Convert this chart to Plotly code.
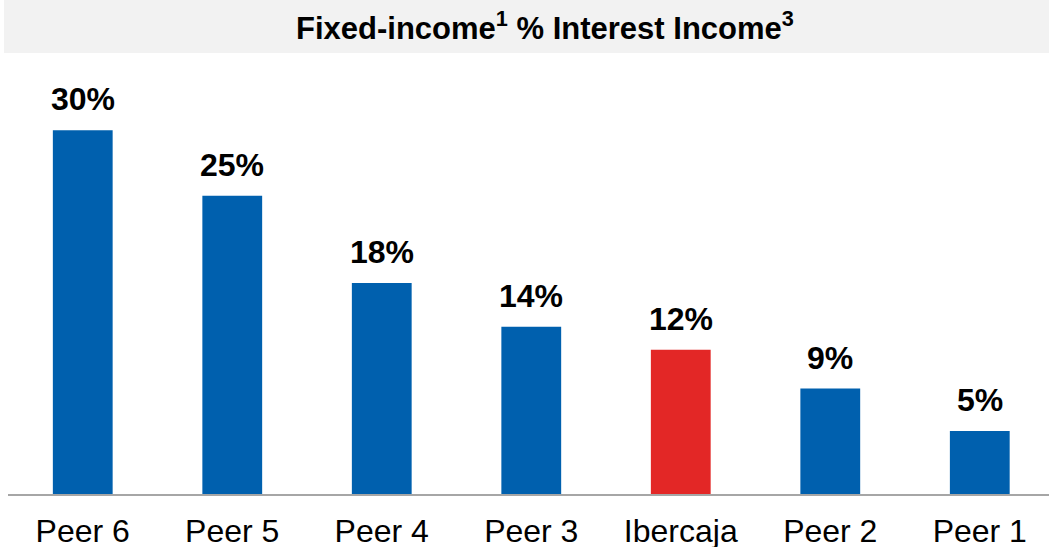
import plotly.graph_objects as go

categories = ["Peer 6", "Peer 5", "Peer 4", "Peer 3", "Ibercaja", "Peer 2", "Peer 1"]
values = [30.0, 24.6, 17.4, 13.8, 11.9, 8.7, 5.2]
labels = ["30%", "25%", "18%", "14%", "12%", "9%", "5%"]
highlight = "Ibercaja"

BLUE = "#0060AE"
RED = "#E32726"
FONT = "Liberation Sans, Arial, sans-serif"
colors = [RED if c == highlight else BLUE for c in categories]

fig = go.Figure(go.Bar(
    x=categories,
    y=values,
    marker=dict(color=colors, line=dict(width=0)),
    width=0.40,
    hoverinfo="skip",
))

W, H = 1049, 547
ml, mr, mt, mb = 8, 0, 60, 53

value_annotations = [dict(
    x=c, y=v, xref="x", yref="y",
    text="<b>%s</b>" % t,
    showarrow=False, xanchor="center", yanchor="bottom", yshift=11,
    font=dict(family=FONT, size=32, color="black"),
) for c, v, t in zip(categories, values, labels)]

fig.update_layout(
    width=W, height=H,
    margin=dict(l=ml, r=mr, t=mt, b=mb),
    paper_bgcolor="white",
    plot_bgcolor="white",
    showlegend=False,
    shapes=[dict(
        type="rect", xref="paper", yref="paper",
        x0=(4 - ml) / (W - ml - mr), x1=1.0,
        y0=(H - mb - 53) / (H - mt - mb), y1=(H - mb) / (H - mt - mb),
        fillcolor="#F2F2F2", line=dict(width=0), layer="below",
    )],
    annotations=[dict(
        text="<b>Fixed-income<sup>1</sup> % Interest Income<sup>3</sup></b>",
        xref="paper", yref="paper",
        x=(545 - ml) / (W - ml - mr), y=(H - mb - 26) / (H - mt - mb),
        xanchor="center", yanchor="middle", showarrow=False,
        font=dict(family=FONT, size=31, color="black"),
    )] + value_annotations,
)

fig.update_xaxes(
    range=[-0.5, 6.463],
    automargin=False,
    showgrid=False,
    showline=True, linecolor="#A6A6A6", linewidth=1.5,
    ticks="", ticklabelstandoff=8,
    tickfont=dict(family=FONT, size=32, color="black"),
)
fig.update_yaxes(
    range=[0, 35.8],
    visible=False,
    automargin=False,
    showgrid=False,
    zeroline=False,
)

fig.write_html(
    "out.html",
    config={"displayModeBar": False},
    post_script="document.body.style.margin='0';document.body.style.overflow='hidden';",
)
